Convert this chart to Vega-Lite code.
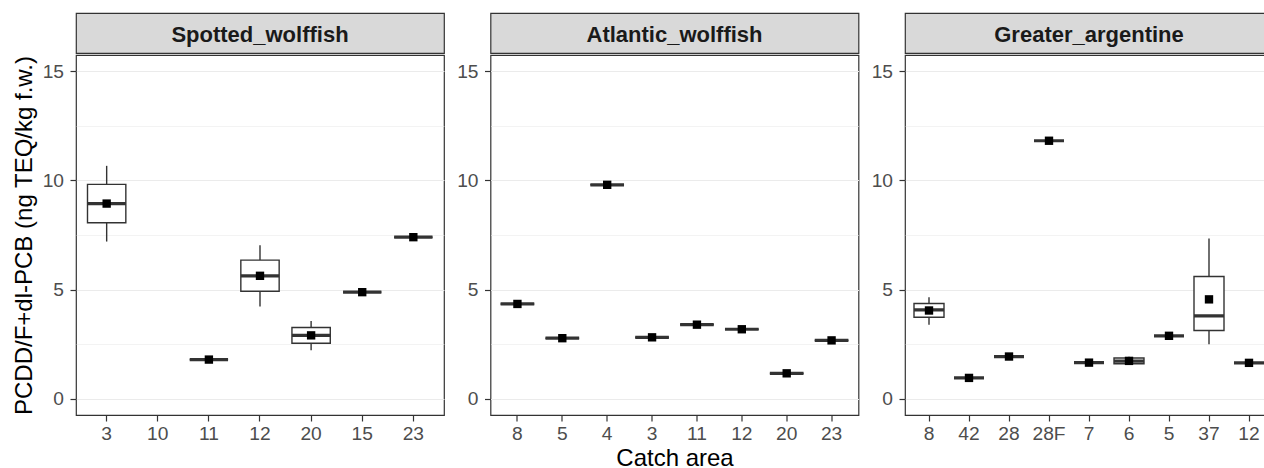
{
  "$schema": "https://vega.github.io/schema/vega-lite/v6.json",
  "background": "white",
  "padding": {"left": 11, "top": 12, "right": 0, "bottom": 0},
  "config": {
    "font": "Liberation Sans",
    "view": {"stroke": "#333333", "strokeWidth": 1.2},
    "axis": {"labelFont": "Liberation Sans", "titleFont": "Liberation Sans"}
  },
  "datasets": {
    "fish": [
      {"species": "Spotted_wolffish", "area": "3", "min": 7.20, "q1": 8.06, "median": 8.94, "q3": 9.82, "max": 10.67, "mean": 8.94},
      {"species": "Spotted_wolffish", "area": "11", "min": 1.79, "q1": 1.79, "median": 1.79, "q3": 1.79, "max": 1.79, "mean": 1.79},
      {"species": "Spotted_wolffish", "area": "12", "min": 4.22, "q1": 4.92, "median": 5.63, "q3": 6.35, "max": 7.03, "mean": 5.63},
      {"species": "Spotted_wolffish", "area": "20", "min": 2.22, "q1": 2.54, "median": 2.90, "q3": 3.26, "max": 3.56, "mean": 2.90},
      {"species": "Spotted_wolffish", "area": "15", "min": 4.88, "q1": 4.88, "median": 4.88, "q3": 4.88, "max": 4.88, "mean": 4.88},
      {"species": "Spotted_wolffish", "area": "23", "min": 7.40, "q1": 7.40, "median": 7.40, "q3": 7.40, "max": 7.40, "mean": 7.40},
      {"species": "Atlantic_wolffish", "area": "8", "min": 4.34, "q1": 4.34, "median": 4.34, "q3": 4.34, "max": 4.34, "mean": 4.34},
      {"species": "Atlantic_wolffish", "area": "5", "min": 2.77, "q1": 2.77, "median": 2.77, "q3": 2.77, "max": 2.77, "mean": 2.77},
      {"species": "Atlantic_wolffish", "area": "4", "min": 9.80, "q1": 9.80, "median": 9.80, "q3": 9.80, "max": 9.80, "mean": 9.80},
      {"species": "Atlantic_wolffish", "area": "3", "min": 2.81, "q1": 2.81, "median": 2.81, "q3": 2.81, "max": 2.81, "mean": 2.81},
      {"species": "Atlantic_wolffish", "area": "11", "min": 3.39, "q1": 3.39, "median": 3.39, "q3": 3.39, "max": 3.39, "mean": 3.39},
      {"species": "Atlantic_wolffish", "area": "12", "min": 3.18, "q1": 3.18, "median": 3.18, "q3": 3.18, "max": 3.18, "mean": 3.18},
      {"species": "Atlantic_wolffish", "area": "20", "min": 1.16, "q1": 1.16, "median": 1.16, "q3": 1.16, "max": 1.16, "mean": 1.16},
      {"species": "Atlantic_wolffish", "area": "23", "min": 2.67, "q1": 2.67, "median": 2.67, "q3": 2.67, "max": 2.67, "mean": 2.67},
      {"species": "Greater_argentine", "area": "8", "min": 3.39, "q1": 3.73, "median": 4.07, "q3": 4.36, "max": 4.65, "mean": 4.04},
      {"species": "Greater_argentine", "area": "42", "min": 0.95, "q1": 0.95, "median": 0.95, "q3": 0.95, "max": 0.95, "mean": 0.95},
      {"species": "Greater_argentine", "area": "28", "min": 1.93, "q1": 1.93, "median": 1.93, "q3": 1.93, "max": 1.93, "mean": 1.93},
      {"species": "Greater_argentine", "area": "28F", "min": 11.82, "q1": 11.82, "median": 11.82, "q3": 11.82, "max": 11.82, "mean": 11.82},
      {"species": "Greater_argentine", "area": "7", "min": 1.65, "q1": 1.65, "median": 1.65, "q3": 1.65, "max": 1.65, "mean": 1.65},
      {"species": "Greater_argentine", "area": "6", "min": 1.55, "q1": 1.60, "median": 1.72, "q3": 1.86, "max": 1.92, "mean": 1.73},
      {"species": "Greater_argentine", "area": "5", "min": 2.88, "q1": 2.88, "median": 2.88, "q3": 2.88, "max": 2.88, "mean": 2.88},
      {"species": "Greater_argentine", "area": "37", "min": 2.49, "q1": 3.12, "median": 3.79, "q3": 5.60, "max": 7.34, "mean": 4.55},
      {"species": "Greater_argentine", "area": "12", "min": 1.64, "q1": 1.64, "median": 1.64, "q3": 1.64, "max": 1.64, "mean": 1.64}
    ]
  },
  "spacing": 0,
  "vconcat": [
    {
      "bounds": "flush",
      "spacing": 46.5,
      "hconcat": [
        {
          "width": 368, "height": 40,
          "data": {"values": [{"species": "Spotted_wolffish"}]},
          "view": {"fill": "#D9D9D9", "stroke": "#333333", "strokeWidth": 1.2},
          "mark": {"type": "text", "font": "Liberation Sans", "fontWeight": "bold", "fontSize": 22, "color": "#1A1A1A", "baseline": "middle", "dy": 1.5},
          "encoding": {"text": {"field": "species"}}
        },
        {
          "width": 368, "height": 40,
          "data": {"values": [{"species": "Atlantic_wolffish"}]},
          "view": {"fill": "#D9D9D9", "stroke": "#333333", "strokeWidth": 1.2},
          "mark": {"type": "text", "font": "Liberation Sans", "fontWeight": "bold", "fontSize": 22, "color": "#1A1A1A", "baseline": "middle", "dy": 1.5},
          "encoding": {"text": {"field": "species"}}
        },
        {
          "width": 360, "height": 40,
          "data": {"values": [{"species": "Greater_argentine"}]},
          "view": {"fill": "#D9D9D9", "stroke": "#333333", "strokeWidth": 1.2},
          "mark": {"type": "text", "font": "Liberation Sans", "fontWeight": "bold", "fontSize": 22, "color": "#1A1A1A", "baseline": "middle", "dy": 1.5, "dx": 4},
          "encoding": {"text": {"field": "species"}}
        }
      ]
    },
    {
      "bounds": "flush",
      "spacing": 46.5,
      "hconcat": [
        {
          "width": 368, "height": 360,
          "data": {"name": "fish"},
          "transform": [{"filter": "datum.species === 'Spotted_wolffish'"}],
          "encoding": {
            "x": {"field": "area", "type": "nominal",
              "scale": {"domain": ["3", "10", "11", "12", "20", "15", "23"], "paddingInner": 0.25, "paddingOuter": 0.225},
              "axis": {"title": null, "labelAngle": 0, "domain": false, "grid": false, "tickSize": 6, "tickColor": "#333333", "tickWidth": 1.2, "labelPadding": 3, "labelFontSize": 19.2, "labelColor": "#4D4D4D"}}
          },
          "layer": [
            {
              "mark": {"type": "rule", "color": "#333333", "strokeWidth": 1.4},
              "encoding": {
                "y": {"field": "min", "type": "quantitative", "title": "PCDD/F+dl-PCB (ng TEQ/kg f.w.)",
                  "scale": {"domain": [-0.75, 15.75], "nice": false, "zero": false},
                  "axis": {"title": "PCDD/F+dl-PCB (ng TEQ/kg f.w.)", "values": [0, 2.5, 5, 7.5, 10, 12.5, 15],
                    "labelExpr": "datum.value % 5 === 0 ? '' + datum.value : ''",
                    "domain": false, "grid": true, "gridColor": "#EBEBEB",
                    "gridWidth": {"condition": {"test": "datum.value % 5 === 0", "value": 1.1}, "value": 0.6},
                    "tickOpacity": {"condition": {"test": "datum.value % 5 === 0", "value": 1}, "value": 0},
                    "tickSize": 6, "tickColor": "#333333", "tickWidth": 1.2, "labelPadding": 6.5,
                    "labelFontSize": 19.2, "labelColor": "#4D4D4D",
                    "titleFontSize": 24, "titleFontWeight": "normal", "titleColor": "#000000", "titlePadding": 6}},
                "y2": {"field": "max"}
              }
            },
            {
              "mark": {"type": "bar", "fill": "white", "stroke": "#333333", "strokeWidth": 1.4},
              "encoding": {"y": {"field": "q1", "type": "quantitative", "title": "PCDD/F+dl-PCB (ng TEQ/kg f.w.)"}, "y2": {"field": "q3"}}
            },
            {
              "mark": {"type": "bar", "fill": "white", "stroke": "#333333", "strokeWidth": 3.2},
              "encoding": {"y": {"field": "median", "type": "quantitative", "title": "PCDD/F+dl-PCB (ng TEQ/kg f.w.)"}, "y2": {"field": "median"}}
            },
            {
              "mark": {"type": "point", "shape": "square", "filled": true, "color": "#000000", "size": 70, "opacity": 1},
              "encoding": {"y": {"field": "mean", "type": "quantitative", "title": "PCDD/F+dl-PCB (ng TEQ/kg f.w.)"}}
            }
          ]
        },
        {
          "width": 368, "height": 360,
          "data": {"name": "fish"},
          "transform": [{"filter": "datum.species === 'Atlantic_wolffish'"}],
          "encoding": {
            "x": {"field": "area", "type": "nominal",
              "scale": {"domain": ["8", "5", "4", "3", "11", "12", "20", "23"], "paddingInner": 0.25, "paddingOuter": 0.225},
              "axis": {"title": "Catch area", "labelAngle": 0, "domain": false, "grid": false, "tickSize": 6, "tickColor": "#333333", "tickWidth": 1.2, "labelPadding": 3, "labelFontSize": 19.2, "labelColor": "#4D4D4D",
                "titleFontSize": 24, "titleFontWeight": "normal", "titleColor": "#000000", "titlePadding": 3}}
          },
          "layer": [
            {
              "mark": {"type": "rule", "color": "#333333", "strokeWidth": 1.4},
              "encoding": {
                "y": {"field": "min", "type": "quantitative",
                  "scale": {"domain": [-0.75, 15.75], "nice": false, "zero": false},
                  "axis": {"title": null, "values": [0, 2.5, 5, 7.5, 10, 12.5, 15],
                    "labelExpr": "datum.value % 5 === 0 ? '' + datum.value : ''",
                    "domain": false, "grid": true, "gridColor": "#EBEBEB",
                    "gridWidth": {"condition": {"test": "datum.value % 5 === 0", "value": 1.1}, "value": 0.6},
                    "tickOpacity": {"condition": {"test": "datum.value % 5 === 0", "value": 1}, "value": 0},
                    "tickSize": 6, "tickColor": "#333333", "tickWidth": 1.2, "labelPadding": 6.5,
                    "labelFontSize": 19.2, "labelColor": "#4D4D4D"}},
                "y2": {"field": "max"}
              }
            },
            {
              "mark": {"type": "bar", "fill": "white", "stroke": "#333333", "strokeWidth": 1.4},
              "encoding": {"y": {"field": "q1", "type": "quantitative", "title": null}, "y2": {"field": "q3"}}
            },
            {
              "mark": {"type": "bar", "fill": "white", "stroke": "#333333", "strokeWidth": 3.2},
              "encoding": {"y": {"field": "median", "type": "quantitative", "title": null}, "y2": {"field": "median"}}
            },
            {
              "mark": {"type": "point", "shape": "square", "filled": true, "color": "#000000", "size": 70, "opacity": 1},
              "encoding": {"y": {"field": "mean", "type": "quantitative", "title": null}}
            }
          ]
        },
        {
          "width": 360, "height": 360,
          "data": {"name": "fish"},
          "transform": [{"filter": "datum.species === 'Greater_argentine'"}],
          "encoding": {
            "x": {"field": "area", "type": "nominal",
              "scale": {"domain": ["8", "42", "28", "28F", "7", "6", "5", "37", "12"], "paddingInner": 0.25, "paddingOuter": 0.125, "align": 0.9},
              "axis": {"title": null, "labelAngle": 0, "domain": false, "grid": false, "tickSize": 6, "tickColor": "#333333", "tickWidth": 1.2, "labelPadding": 3, "labelFontSize": 19.2, "labelColor": "#4D4D4D"}}
          },
          "layer": [
            {
              "mark": {"type": "rule", "color": "#333333", "strokeWidth": 1.4},
              "encoding": {
                "y": {"field": "min", "type": "quantitative",
                  "scale": {"domain": [-0.75, 15.75], "nice": false, "zero": false},
                  "axis": {"title": null, "values": [0, 2.5, 5, 7.5, 10, 12.5, 15],
                    "labelExpr": "datum.value % 5 === 0 ? '' + datum.value : ''",
                    "domain": false, "grid": true, "gridColor": "#EBEBEB",
                    "gridWidth": {"condition": {"test": "datum.value % 5 === 0", "value": 1.1}, "value": 0.6},
                    "tickOpacity": {"condition": {"test": "datum.value % 5 === 0", "value": 1}, "value": 0},
                    "tickSize": 6, "tickColor": "#333333", "tickWidth": 1.2, "labelPadding": 6.5,
                    "labelFontSize": 19.2, "labelColor": "#4D4D4D"}},
                "y2": {"field": "max"}
              }
            },
            {
              "mark": {"type": "bar", "fill": "white", "stroke": "#333333", "strokeWidth": 1.4},
              "encoding": {"y": {"field": "q1", "type": "quantitative", "title": null}, "y2": {"field": "q3"}}
            },
            {
              "mark": {"type": "bar", "fill": "white", "stroke": "#333333", "strokeWidth": 3.2},
              "encoding": {"y": {"field": "median", "type": "quantitative", "title": null}, "y2": {"field": "median"}}
            },
            {
              "mark": {"type": "point", "shape": "square", "filled": true, "color": "#000000", "size": 70, "opacity": 1},
              "encoding": {"y": {"field": "mean", "type": "quantitative", "title": null}}
            }
          ]
        }
      ]
    }
  ]
}
